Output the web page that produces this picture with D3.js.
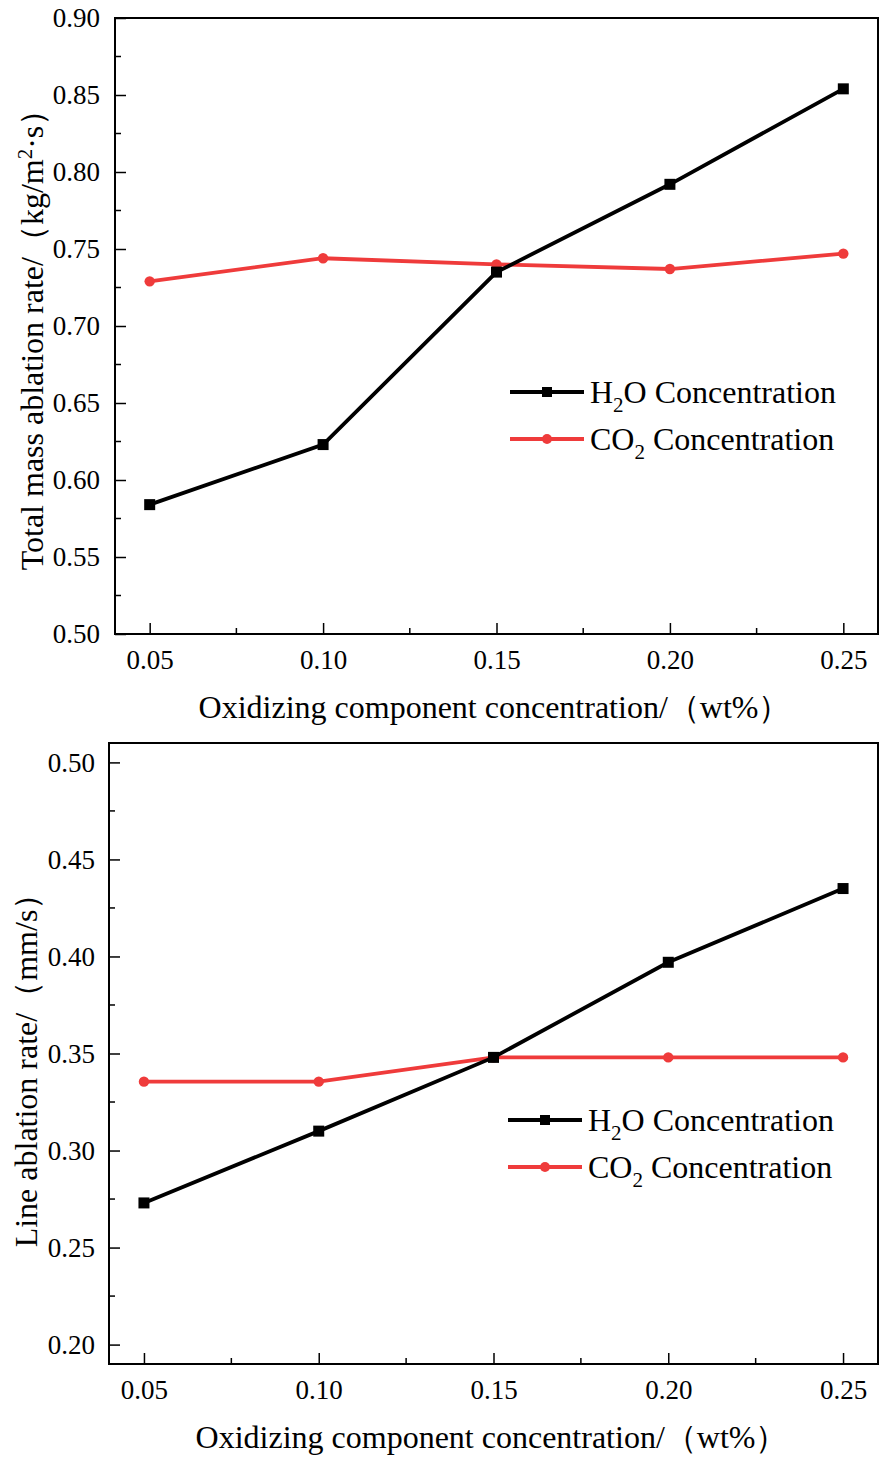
<!DOCTYPE html>
<html>
<head>
<meta charset="utf-8">
<script src="https://cdn.jsdelivr.net/npm/d3@7"></script>
<style>
  body { margin: 0; background: #fff; }
  svg text { font-family: "Times New Roman", "Liberation Serif", serif; fill: #000; }
</style>
</head>
<body>
<div id="chart"></div>
<script>
// x categories shared by both panels
const concentrations = [0.05, 0.10, 0.15, 0.20, 0.25];
const xTicks = [0.05, 0.10, 0.15, 0.20, 0.25];

// top panel: total mass ablation rate
const massH2O = [0.584, 0.623, 0.735, 0.792, 0.854];
const massCO2 = [0.729, 0.744, 0.740, 0.737, 0.747];
const massTicks = [0.50, 0.55, 0.60, 0.65, 0.70, 0.75, 0.80, 0.85, 0.90];

// bottom panel: line ablation rate
const lineH2O = [0.273, 0.310, 0.348, 0.397, 0.435];
const lineCO2 = [0.3355, 0.3355, 0.348, 0.348, 0.348];
const lineTicks = [0.20, 0.25, 0.30, 0.35, 0.40, 0.45, 0.50];

const RED = "#ef3b3b";

const svg = d3.select("#chart").append("svg")
  .attr("width", 880).attr("height", 1457);

function drawPanel(cfg) {
  const g = svg.append("g");
  const x = d3.scaleLinear().domain([0.04, 0.26]).range([cfg.left, cfg.right]);
  const y = d3.scaleLinear().domain(cfg.yDomain).range([cfg.bottom, cfg.top]);

  // minor ticks
  const xMinor = d3.range(0.075, 0.26, 0.05);
  const yMinor = cfg.yTicks.slice(0, -1).map(d => d + 0.025);

  // x axis (ticks point inward)
  const xAxis = g.append("g")
    .attr("transform", `translate(0,${cfg.bottom})`)
    .call(d3.axisBottom(x).tickValues(xTicks).tickSize(-11).tickPadding(16).tickFormat(d3.format(".2f")));
  xAxis.selectAll("text").style("font-size", "27px");
  g.append("g").selectAll("line").data(xMinor).enter().append("line")
    .attr("x1", d => x(d)).attr("x2", d => x(d))
    .attr("y1", cfg.bottom).attr("y2", cfg.bottom - 6)
    .attr("stroke", "#000").attr("stroke-width", 1.5);

  // y axis
  const yAxis = g.append("g")
    .attr("transform", `translate(${cfg.left},0)`)
    .call(d3.axisLeft(y).tickValues(cfg.yTicks).tickSize(-11).tickPadding(cfg.yPad).tickFormat(d3.format(".2f")));
  yAxis.selectAll("text").style("font-size", "27px");
  g.append("g").selectAll("line").data(yMinor).enter().append("line")
    .attr("x1", cfg.left).attr("x2", cfg.left + 6)
    .attr("y1", d => y(d)).attr("y2", d => y(d))
    .attr("stroke", "#000").attr("stroke-width", 1.5);

  [xAxis, yAxis].forEach(a => {
    a.select(".domain").remove();
    a.selectAll(".tick line").attr("stroke-width", 1.5);
  });

  // frame
  g.append("rect")
    .attr("x", cfg.left).attr("y", cfg.top)
    .attr("width", cfg.right - cfg.left).attr("height", cfg.bottom - cfg.top)
    .attr("fill", "none").attr("stroke", "#000").attr("stroke-width", 2);

  const line = d3.line().x((d, i) => x(concentrations[i])).y(d => y(d));

  // CO2 series
  g.append("path").datum(cfg.co2).attr("d", line)
    .attr("fill", "none").attr("stroke", RED).attr("stroke-width", 3.8);
  g.selectAll(".co2pt").data(cfg.co2).enter().append("circle")
    .attr("cx", (d, i) => x(concentrations[i])).attr("cy", d => y(d))
    .attr("r", 5.2).attr("fill", RED);

  // H2O series
  g.append("path").datum(cfg.h2o).attr("d", line)
    .attr("fill", "none").attr("stroke", "#000").attr("stroke-width", 3.8);
  g.selectAll(".h2opt").data(cfg.h2o).enter().append("rect")
    .attr("x", (d, i) => x(concentrations[i]) - 5.5).attr("y", d => y(d) - 5.5)
    .attr("width", 11).attr("height", 11).attr("fill", "#000");

  // legend
  const legend = [
    { name: "H", sub: "2", rest: "O Concentration", color: "#000", shape: "square" },
    { name: "CO", sub: "2", rest: " Concentration", color: RED, shape: "circle" }
  ];
  legend.forEach((d, i) => {
    const ly = cfg.legendY + i * 47;
    g.append("line").attr("x1", cfg.legendX).attr("x2", cfg.legendX + 74)
      .attr("y1", ly).attr("y2", ly).attr("stroke", d.color).attr("stroke-width", 3.8);
    if (d.shape === "square") {
      g.append("rect").attr("x", cfg.legendX + 37 - 5).attr("y", ly - 5)
        .attr("width", 10).attr("height", 10).attr("fill", d.color);
    } else {
      g.append("circle").attr("cx", cfg.legendX + 37).attr("cy", ly).attr("r", 5).attr("fill", d.color);
    }
    const t = g.append("text").attr("x", cfg.legendX + 80).attr("y", ly + 11)
      .style("font-size", "32px");
    t.append("tspan").text(d.name);
    t.append("tspan").text(d.sub).attr("dy", 9).style("font-size", "21px");
    t.append("tspan").text(d.rest).attr("dy", -9);
  });

  // x title
  g.append("text")
    .attr("x", (cfg.left + cfg.right) / 2 - 2).attr("y", cfg.xTitleY)
    .attr("text-anchor", "middle").style("font-size", "32px")
    .text("Oxidizing component concentration/（wt%）");

  // y title
  const yt = g.append("text")
    .attr("transform", `translate(${cfg.yTitleX},${(cfg.top + cfg.bottom) / 2 + cfg.yTitleShift}) rotate(-90)`)
    .attr("text-anchor", "middle").style("font-size", "32px");
  cfg.yTitle(yt);
}

drawPanel({
  left: 115, right: 878, top: 18, bottom: 634,
  yDomain: [0.50, 0.90], yTicks: massTicks, yPad: 15,
  h2o: massH2O, co2: massCO2,
  legendX: 510, legendY: 392,
  xTitleY: 718, yTitleX: 43, yTitleShift: 6,
  yTitle: t => {
    t.append("tspan").text("Total mass ablation rate/（kg/m");
    t.append("tspan").text("2").attr("dy", -11).style("font-size", "21px");
    t.append("tspan").text("·s）").attr("dy", 11);
  }
});

drawPanel({
  left: 109, right: 878, top: 743, bottom: 1364,
  yDomain: [0.19, 0.51], yTicks: lineTicks, yPad: 14,
  h2o: lineH2O, co2: lineCO2,
  legendX: 508, legendY: 1120,
  xTitleY: 1448, yTitleX: 37, yTitleShift: 9,
  yTitle: t => {
    t.append("tspan").text("Line ablation rate/（mm/s）");
  }
});
</script>
</body>
</html>
